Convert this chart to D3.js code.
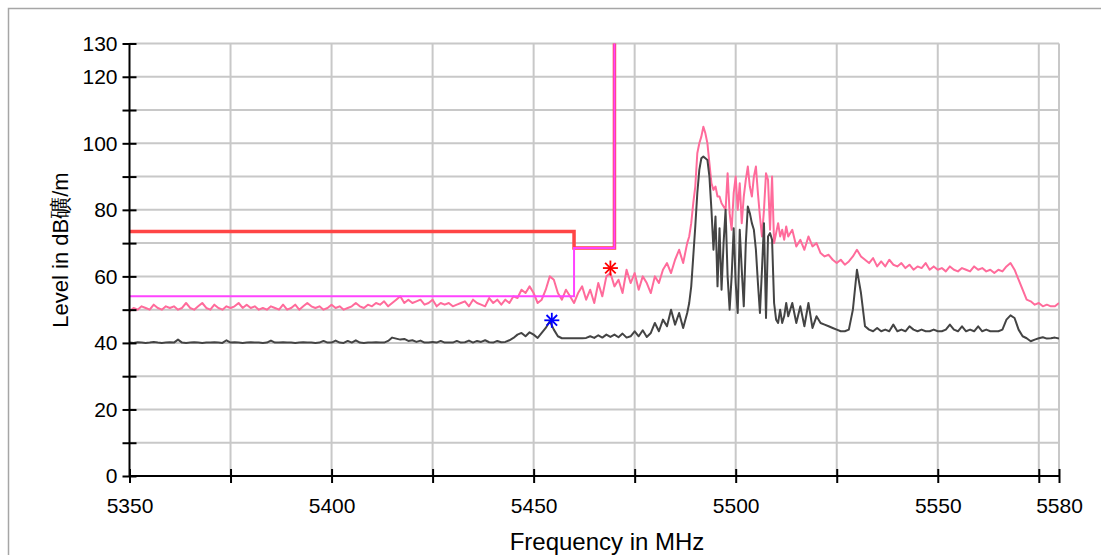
<!DOCTYPE html>
<html><head><meta charset="utf-8">
<script src="https://cdn.jsdelivr.net/npm/d3@7"></script>
<style>html,body{margin:0;padding:0;background:#fff;}svg{display:block;}</style>
</head><body>
<svg id="chart" width="1101" height="555"></svg>
<script>
// ---------- data ----------
const xTickValues = [5350,5375,5400,5425,5450,5475,5500,5525,5550,5575,5580];
const xTickLabels = [5350,5400,5450,5500,5550,5580];
const yTickValues = [0,10,20,30,40,50,60,70,80,90,100,110,120,130];
const yTickLabels = [0,20,40,60,80,100,120,130];

// frequency grid of the measured traces (MHz)
const traceFreq = [].concat(d3.range(5350, 5488, 1), d3.range(5488, 5513, 0.5), d3.range(5513, 5580.5, 1));

const peakLevel = [
 49.5,50.5,50,51,50.5,50,51.5,50.5,50,51,
 50.5,51,50,50.5,52,50.5,50,51,52,50.5,
 50,51.5,50.5,50,51,50.5,51,52,50.5,51.5,
 50.5,51,50,50.5,50,51,50.5,50,51.5,50,
 50.5,51.5,50,51,52,51,50.5,51,50,50.5,
 51.5,50.5,51,50,50.5,51,52,51,50.5,51.5,
 51,52,51.5,52.5,51,52,53,54,52,53,
 52,52.5,53,51.5,52,53,51,52,51.5,52,
 51,51.5,52,52.5,51,53,52,51.5,51,53.5,
 52,53,51.5,53,52,54,53.5,56,55,57,
 55,52,53,56,60,59,55,53,56,54,
 52,55,57,53,56,52,58,54,60,61,
 57,59,55,62,58,61,56,60,58,55,
 60,58,62,64,61,65,68,64,
 70,72,76,82,87,97,100,102,105,103,
 100,94,88,86,87,84,84,82,81,80,
 91,79,74,85,90,80,88,76,84,89,
 93,87,84,90,93,85,78,72,80,91,
 89,74,90,70,73,76,72,74,71,75,
 72,74,69,71,68,72,69,70,67,66,
 66.5,65,64,65,63.5,64.5,66,68,66,65,
 64,65.5,63,64.5,63,65,63.5,63,64,62.5,
 63.5,62,63,62.5,64,62,63,62,62.5,61.5,
 63,62,61.5,62.5,62,61.5,63,62,62.5,61.5,
 62,61,62,61.5,63,64,62,59,56,53,
 52.5,51.5,52,51,51.5,51,51,52
];

const avgLevel = [
 40.1,40.0,40.2,40.1,40.0,40.1,40.3,40.1,40.0,40.1,
 40.2,40.1,41.0,40.1,40.0,40.1,40.2,40.1,40.0,40.1,
 40.1,40.2,40.1,40.0,40.8,40.1,40.2,40.1,40.0,40.1,
 40.2,40.1,40.1,40.0,40.1,40.7,40.1,40.1,40.2,40.1,
 40.1,40.0,40.1,40.2,40.1,40.1,40.0,40.1,40.6,40.1,
 40.1,40.7,40.1,40.0,40.6,40.1,40.8,40.1,40.0,40.1,
 40.1,40.2,40.1,40.1,40.6,41.6,41.3,41.0,41.2,40.6,
 40.8,40.3,40.7,40.1,40.1,40.3,40.1,40.6,40.1,40.1,
 40.1,40.6,40.1,40.2,40.7,40.1,40.6,40.3,40.8,40.2,
 40.1,40.6,40.2,40.3,40.8,41.5,42.5,43.0,42.0,43.2,
 42.5,41.5,43.0,44.5,46.5,44.0,42.0,41.4,41.4,41.4,
 41.4,41.4,41.4,41.5,42.0,41.5,42.3,41.6,42.5,41.8,
 42.5,41.7,42.8,41.6,42.0,43.5,42.0,43.8,41.8,43.0,
 46.0,43.5,47.0,45.0,50.0,45.5,49.0,44.5,
 49,52,57,66,75,85,92,95.5,96,95.5,
 95,90,80,68,78,57,74.5,56,70,80,
 60,50,60,74.5,58,49,74,62,51,70,
 81,79,76,74,68,58,49,62,76,47.5,
 72,73,71,52,47,46,50,46,48,52,
 48,52,46,51,45,52,44.5,48,46,45.5,
 45,44.5,44,43.5,43.5,44,50,62,55,45,
 44,43.5,44.5,43.5,44,43.5,45.5,43.5,44,43.5,
 45,44,43.5,44,43.5,43.5,44,43.5,43.5,44,
 45.5,44,43.5,45,43.5,44,43.5,45,43.5,44,
 43.5,43.5,43.5,44,47,48.3,47.5,44,42,41.4,
 40.5,41,41.4,41.7,41.3,41.4,41.6,41.3
];

// limit lines
const limitFreq = [5350, 5460, 5460, 5470, 5470];
const limitRed = [73.5, 73.5, 68.5, 68.5, 130];
const limitMagenta = [54, 54, 68.5, 68.5, 130];

// markers
const markerFreq = [5469, 5454.5];
const markerLevel = [62.5, 46.8];
const markerColor = ["#ff0000", "#0000ff"];

// ---------- drawing ----------
const svg = d3.select("#chart");
svg.append("rect").attr("x", 8.5).attr("y", 8.5).attr("width", 1200).attr("height", 700)
  .attr("fill", "#fff").attr("stroke", "#a6a6a6").attr("stroke-width", 1.5);

const x = d3.scaleLinear().domain([5350, 5580]).range([129.5, 1059]);
const y = d3.scaleLinear().domain([0, 130]).range([476, 43.5]);

// grid
const grid = svg.append("g").attr("stroke", "#c8c8c8").attr("stroke-width", 2);
grid.selectAll("line.h").data(yTickValues.filter(v => v > 0)).join("line")
  .attr("x1", x(5350)).attr("x2", x(5580)).attr("y1", d => y(d)).attr("y2", d => y(d));
grid.selectAll("line.v").data(xTickValues.filter(v => v > 5350)).join("line")
  .attr("x1", d => x(d)).attr("x2", d => x(d)).attr("y1", y(0)).attr("y2", y(130));

// clip
svg.append("clipPath").attr("id", "plot").append("rect")
  .attr("x", x(5350)).attr("y", y(130) - 2).attr("width", x(5580) - x(5350)).attr("height", y(0) - y(130) + 2);

const plot = svg.append("g").attr("clip-path", "url(#plot)");
const line = d3.line().x(d => x(d[0])).y(d => y(d[1]));

plot.append("path").datum(traceFreq.map((f, i) => [f, peakLevel[i]]))
  .attr("d", line).attr("fill", "none").attr("stroke", "#ff6b9b").attr("stroke-width", 2).attr("stroke-linejoin", "round");
plot.append("path").datum(traceFreq.map((f, i) => [f, avgLevel[i]]))
  .attr("d", line).attr("fill", "none").attr("stroke", "#444444").attr("stroke-width", 2).attr("stroke-linejoin", "round");
plot.append("path").datum(limitFreq.map((f, i) => [f, limitRed[i]]))
  .attr("d", line).attr("fill", "none").attr("stroke", "#ff4545").attr("stroke-width", 3.5);
plot.append("path").datum(limitFreq.map((f, i) => [f, limitMagenta[i]]))
  .attr("d", line).attr("fill", "none").attr("stroke", "#ff44ff").attr("stroke-width", 2);

// markers (asterisks)
const mk = svg.append("g");
markerFreq.forEach((f, i) => {
  const cx = x(f), cy = y(markerLevel[i]), r = 7.5;
  [0, 45, 90, 135].forEach(a => {
    const t = a * Math.PI / 180;
    mk.append("line").attr("x1", cx - r * Math.cos(t)).attr("y1", cy - r * Math.sin(t))
      .attr("x2", cx + r * Math.cos(t)).attr("y2", cy + r * Math.sin(t))
      .attr("stroke", markerColor[i]).attr("stroke-width", 1.8);
  });
});

// axes
const font = "Liberation Sans, Arial, sans-serif";
const yAxis = svg.append("g").attr("transform", `translate(${x(5350)},0)`)
  .call(d3.axisLeft(y).tickValues(yTickValues).tickSize(7).tickPadding(5)
    .tickFormat(d => yTickLabels.includes(d) ? d : ""));
yAxis.select(".domain").attr("stroke", "#000").attr("stroke-width", 2).attr("d", `M0,${y(0)}V${y(130)}`);
yAxis.selectAll(".tick line").attr("x1", 7).attr("stroke", "#000").attr("stroke-width", 2);
yAxis.selectAll(".tick text").attr("font-family", font).attr("font-size", 21).attr("fill", "#000");

const xAxis = svg.append("g").attr("transform", `translate(0,${y(0)})`)
  .call(d3.axisBottom(x).tickValues(xTickValues).tickSize(7).tickPadding(15)
    .tickFormat(d => xTickLabels.includes(d) ? d : ""));
xAxis.select(".domain").attr("stroke", "#000").attr("stroke-width", 2).attr("d", `M${x(5350)},0H${x(5580)}`);
xAxis.selectAll(".tick line").attr("y1", -7).attr("stroke", "#000").attr("stroke-width", 2);
xAxis.selectAll(".tick text").attr("font-family", font).attr("font-size", 21).attr("fill", "#000");

svg.append("text").attr("x", 607).attr("y", 550).attr("text-anchor", "middle")
  .attr("font-family", font).attr("font-size", 24).attr("fill", "#000").text("Frequency in MHz");
svg.append("text").attr("transform", "translate(68,250) rotate(-90)").attr("text-anchor", "middle")
  .attr("font-family", font).attr("font-size", 22).attr("fill", "#000").text("Level in dB礦/m");
</script>
</body></html>
